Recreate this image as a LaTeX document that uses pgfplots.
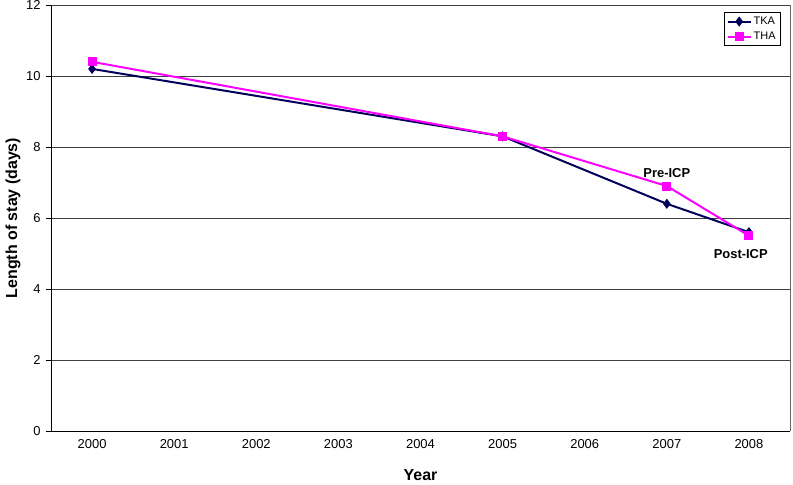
\documentclass[border=0pt]{standalone}
\usepackage{pgfplots}
\pgfplotsset{compat=1.18}
\usepackage{fontspec}
\setmainfont{Liberation Sans}
\definecolor{tka}{RGB}{0,0,90}
\definecolor{tha}{RGB}{255,0,255}
\begin{document}
\begin{tikzpicture}
\begin{axis}[scale only axis,width=739bp,height=426bp,
  xmin=-0.5,xmax=8.5,ymin=0,ymax=12,
  xtick={0,...,8},
  xticklabels={2000,2001,2002,2003,2004,2005,2006,2007,2008},
  x tick style={draw=none},
  extra x ticks={-0.5,0.5,...,8.5},extra x tick labels={},
  extra x tick style={tick style={draw=black,line width=0.8pt},
    major tick length=5bp,tick align=outside,grid=none},
  ytick={0,2,...,12},
  ymajorgrids,grid style={black!75,line width=0.8pt},
  tick align=outside,major tick length=5bp,
  tick pos=left,
  y tick style={black,line width=0.8pt},
  axis x line*=bottom,axis y line*=left,
  axis line style={black,line width=0.8pt},
  tick label style={font=\fontsize{13}{14}\selectfont},
  yticklabel style={xshift=-2bp},
  /pgf/number format/assume math mode=true,
  xlabel={\bfseries Year},ylabel={\bfseries Length of stay (days)},
  label style={font=\fontsize{16}{18}\selectfont},
  xlabel style={at={(axis description cs:0.5,0)},anchor=center,yshift=-44bp},
  ylabel style={at={(axis description cs:0,0.5)},anchor=center,yshift=38bp},
  legend style={font=\fontsize{11}{12}\selectfont,at={(0.987,0.983)},
    anchor=north east,draw=black,line width=0.6pt,inner sep=2.5bp,
    row sep=2bp,cells={anchor=west}},
  legend image code/.code={
    \draw[#1,line width=2pt] (0bp,0bp) -- (23bp,0bp);
    \draw[#1,mark repeat=2,mark phase=2] plot coordinates {(0bp,0bp) (11.5bp,0bp) (23bp,0bp)};},
  clip=false]
\draw[black!60,line width=0.8pt] (rel axis cs:1,0) -- (rel axis cs:1,1);
\addplot[tka,line width=2pt,mark=diamond*,mark size=3.5pt] coordinates
  {(0,10.2) (5,8.3) (7,6.4) (8,5.6)};
\addlegendentry{TKA}
\addplot[tha,line width=2pt,mark=square*,mark size=3.5pt] coordinates
  {(0,10.4) (5,8.3) (7,6.9) (8,5.5)};
\addlegendentry{THA}
\node[font=\bfseries\fontsize{13}{14}\selectfont,anchor=south]
  at (axis cs:7,7.05) {Pre-ICP};
\node[font=\bfseries\fontsize{13}{14}\selectfont,anchor=north]
  at (axis cs:7.9,5.2) {Post-ICP};
\end{axis}
\pgfresetboundingbox
\path ([xshift=-51bp,yshift=-54bp]current axis.south west) rectangle
  ([xshift=3bp,yshift=5bp]current axis.north east);
\end{tikzpicture}
\end{document}
